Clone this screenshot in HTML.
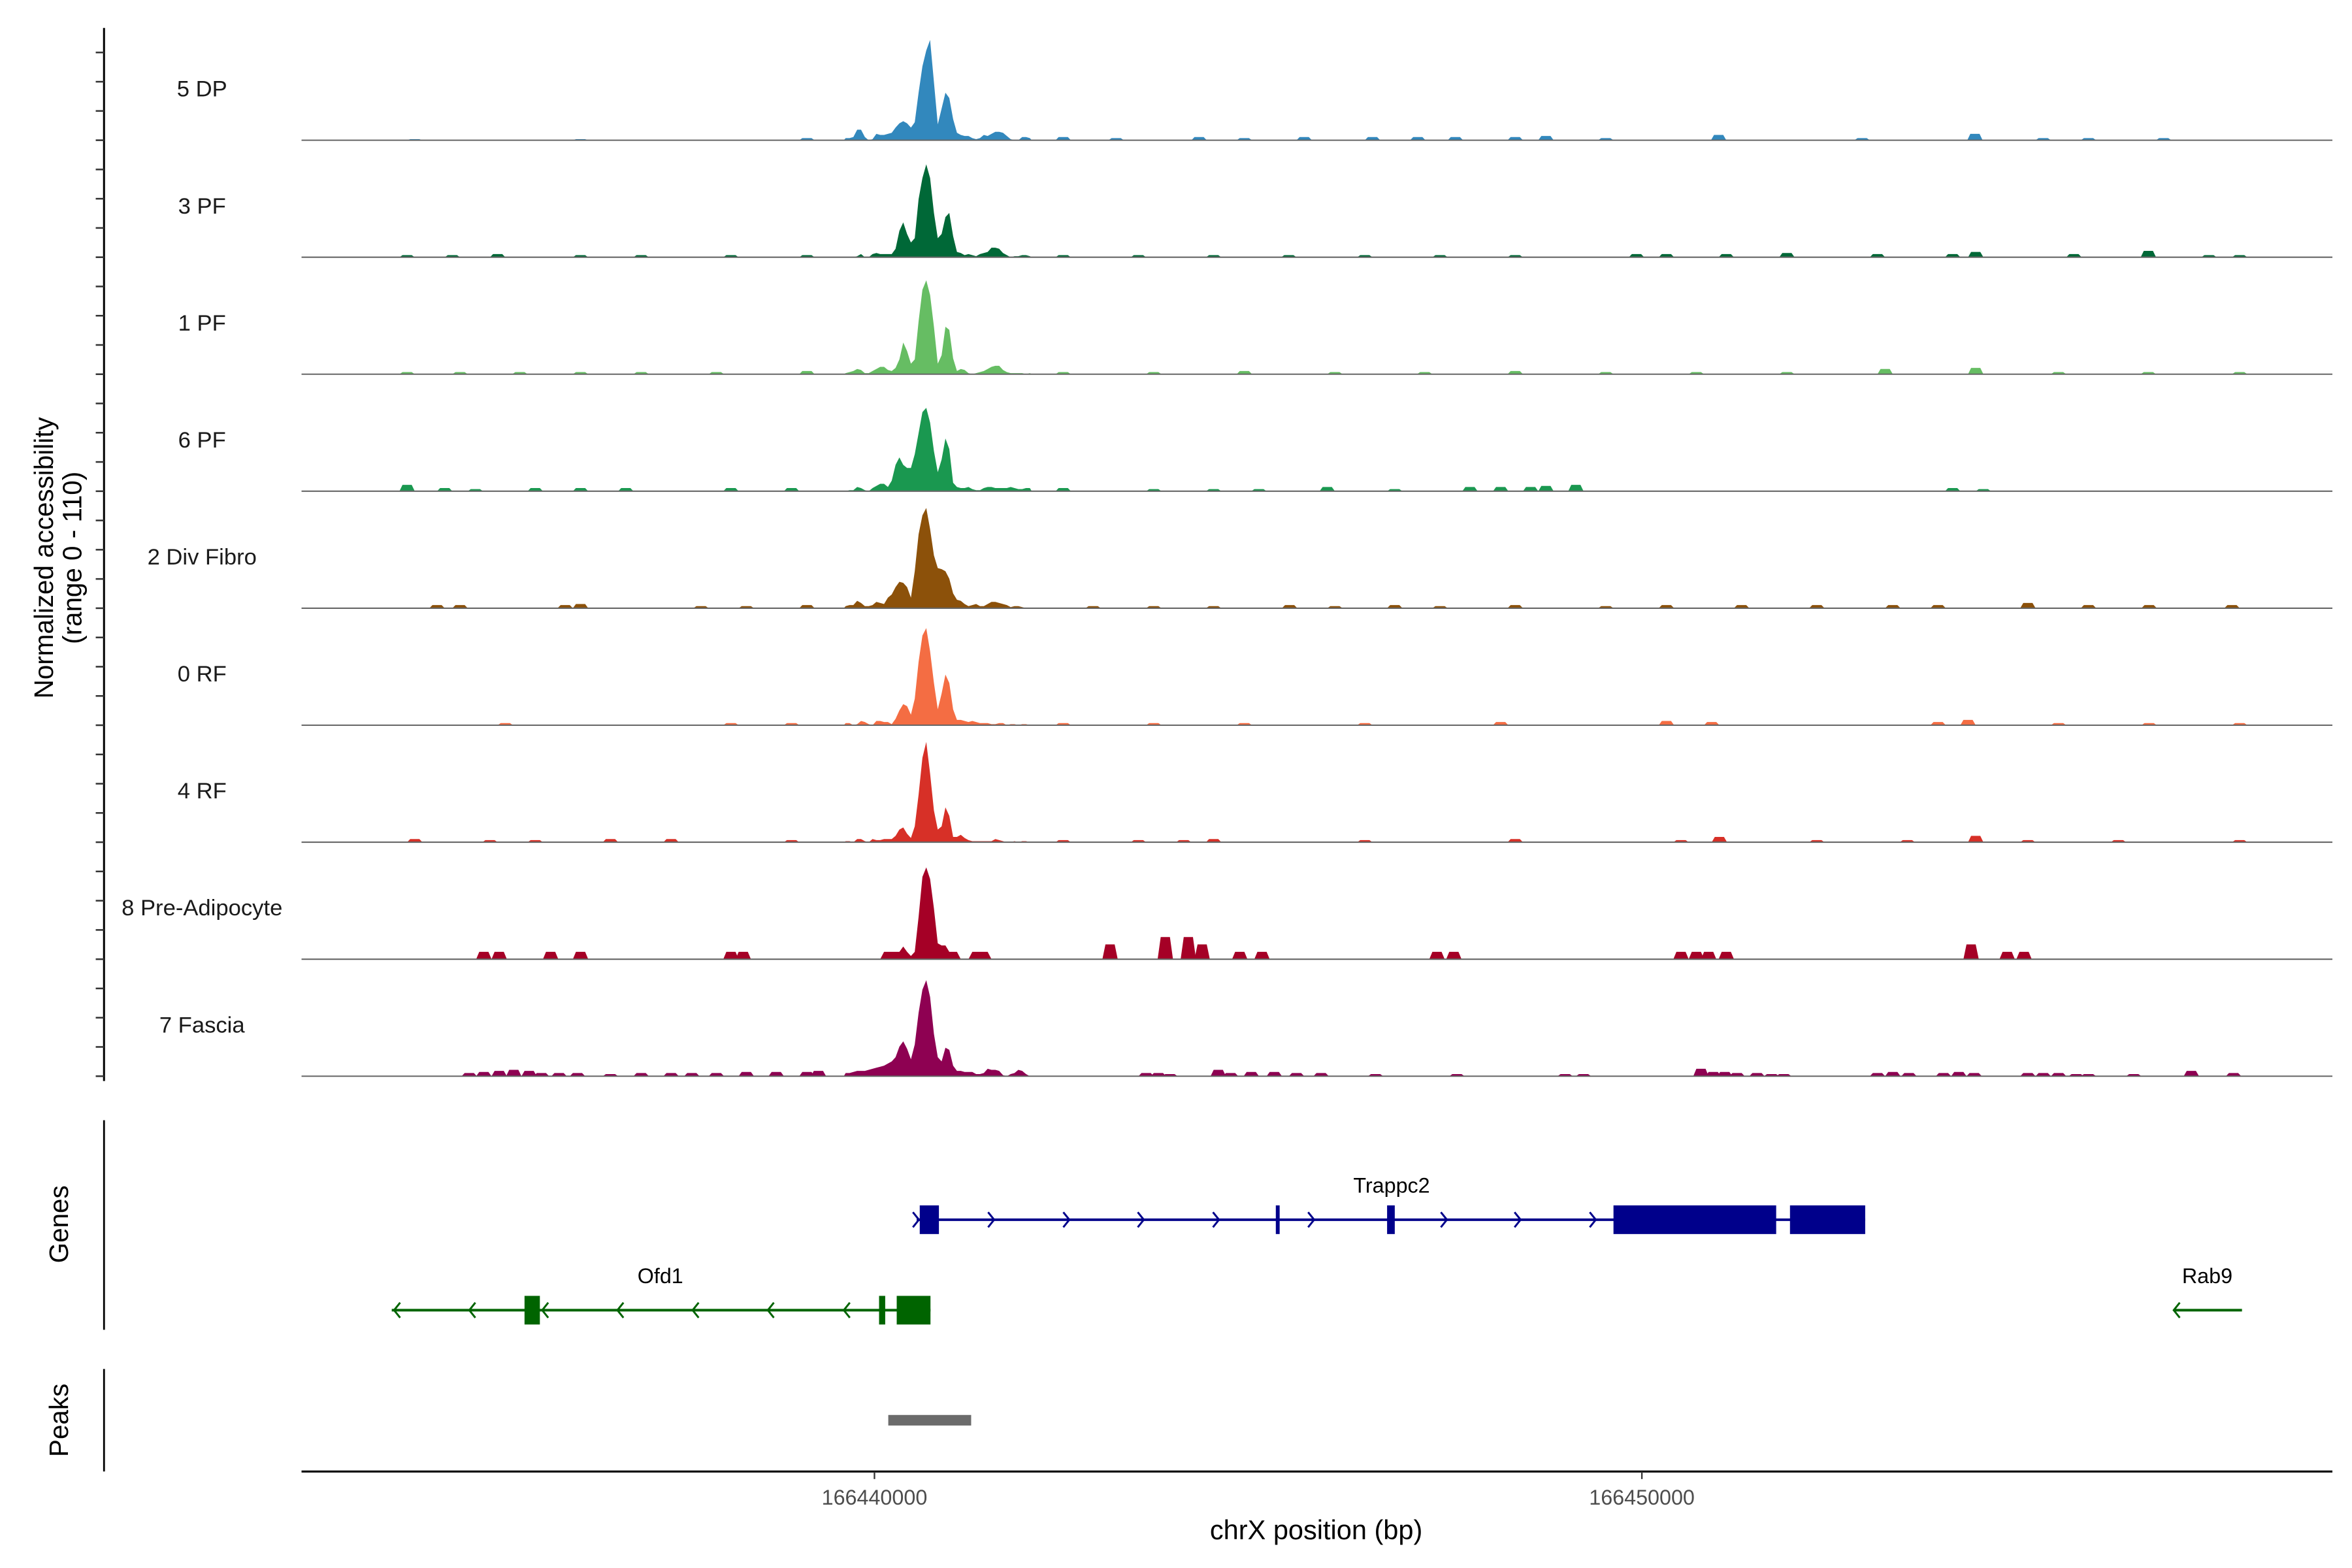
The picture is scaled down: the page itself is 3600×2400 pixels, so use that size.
<!DOCTYPE html>
<html><head><meta charset="utf-8"><style>
html,body{margin:0;padding:0;background:#fff}
svg{display:block}
text{font-family:"Liberation Sans",Arial,sans-serif}
</style></head><body>
<svg id="chart" xmlns="http://www.w3.org/2000/svg" width="3600" height="2400" viewBox="0 0 1560 1040">
<rect x="0" y="0" width="1560" height="1040" fill="#fff"/>
<g id="g"></g>
</svg>
<script>
const names=["5 DP","3 PF","1 PF","6 PF","2 Div Fibro","0 RF","4 RF","8 Pre-Adipocyte","7 Fascia"];
const colors=["#3288bd","#006837","#66bd63","#1a9850","#8c510a","#f46d43","#d73027","#a50026","#8e0152"];
// core coverage, 50bp bins starting at offset -400bp from 166440000
const coreStart=-400;
const core5DP=[2,2,3,10,10,3,0,1,6,5,5,6,7,12,16,18,16,12,17,45,70,85,95,55,15,30,45,40,20,7,5,4,4,2,1,2,5,4,6,8,8,7,4,1,0,0,3,3,2];
const core3PF=[0,0,0,1,3,0,0,3,4,3,3,3,3,8,25,33,22,14,18,55,75,88,75,42,18,22,38,42,20,5,4,2,3,2,1,3,4,5,9,9,8,4,2,0,1,1,2,2,1];
const core1PF=[1,2,3,5,4,1,1,3,5,7,7,4,3,6,14,30,22,10,14,50,80,89,75,45,10,18,45,42,15,3,5,4,1,0,1,2,3,5,7,8,8,4,2,1,1,1,1,0,1];
const core6PF=[0,1,1,4,3,1,0,3,5,7,7,4,10,25,32,25,22,22,35,55,75,79,65,38,18,30,50,40,8,4,3,3,4,2,1,1,3,4,4,3,3,3,3,4,3,2,2,3,3];
const core2DF=[2,3,3,7,5,2,2,3,6,5,4,10,13,20,25,24,20,10,35,70,88,95,75,50,38,37,35,28,14,8,7,4,2,3,4,2,2,4,6,6,5,4,3,1,2,2,1,0,0];
const core0RF=[2,2,0,1,4,3,1,0,4,4,3,3,1,6,14,20,18,10,25,60,85,92,70,40,15,30,48,40,15,5,5,4,3,4,3,2,2,2,1,1,2,2,0,1,1,0,1,1,0];
const core4RF=[1,1,0,3,3,1,0,3,2,2,3,3,3,6,12,14,8,4,15,45,80,95,65,30,12,15,33,25,5,5,7,4,2,1,1,1,1,1,1,3,2,1,0,0,1,0,1,1,0];
const core8PA=[0,0,0,0,0,0,0,0,0,0,7,7,7,7,7,12,7,3,7,40,78,87,76,48,15,13,13,7,7,7,0,0,0,7,7,7,7,7,0,0,0,0,0,0,0,0,0,0,0];
const core7FA=[3,3,4,5,5,5,6,7,8,9,10,12,14,18,28,33,26,16,30,60,82,91,75,40,18,14,27,25,10,5,5,4,4,4,2,2,3,7,6,6,5,1,0,2,3,6,5,2,0];
// background bumps: positions (kb offset from 166440000) and values
const bumpPos5DP=[-6.09,-3.93,-0.98,2.36,3.05,4.13,4.72,5.50,6.39,6.98,7.47,8.25,8.65,9.43,10.90,12.77,14.24,15.13,15.72,16.70];
const bumpVal5DP=[1,1,2,3,2,3,2,3,3,3,3,3,4,2,5,2,6,2,2,2];
const bumpPos3PF=[-6.19,-5.60,-5.01,-3.93,-3.14,-1.97,-0.98,2.36,3.34,4.32,5.30,6.29,7.27,8.25,9.83,10.22,11.00,11.79,12.97,13.95,14.25,15.53,16.50,17.29,17.69];
const bumpVal3PF=[2,2,3,2,2,2,2,2,2,2,2,2,2,2,3,3,3,4,3,3,5,3,6,2,2];
const bumpPos1PF=[-6.19,-5.50,-4.72,-3.93,-3.14,-2.16,-0.98,2.36,3.54,4.72,5.90,7.07,8.25,9.43,10.61,11.79,13.07,14.25,15.33,16.50,17.69];
const bumpVal1PF=[2,2,2,2,2,2,3,2,2,3,2,2,3,2,2,2,5,6,2,2,2];
const bumpPos6PF=[-6.19,-5.70,-5.30,-4.52,-3.93,-3.34,-1.97,-1.18,2.36,3.54,4.32,4.91,5.80,6.68,7.66,8.06,8.45,8.65,9.04,13.95,14.35];
const bumpVal6PF=[6,3,2,3,3,3,3,3,3,2,2,2,4,2,4,4,4,5,6,3,2];
const bumpPos2DF=[-5.80,-5.50,-4.13,-3.93,-2.36,-1.77,-0.98,2.75,3.54,4.32,5.31,5.90,6.68,7.27,8.25,9.43,10.22,11.20,12.18,13.17,13.76,14.93,15.72,16.51,17.59];
const bumpVal2DF=[3,3,3,4,2,2,3,2,2,2,3,2,3,2,3,2,3,3,3,3,3,5,3,3,3];
const bumpPos0RF=[-4.91,-1.97,-1.18,2.36,3.54,4.72,6.29,8.06,10.22,10.81,13.76,14.15,15.33,16.51,17.69];
const bumpVal0RF=[2,2,2,2,2,2,2,3,4,3,3,5,2,2,2];
const bumpPos4RF=[-6.09,-5.11,-4.52,-3.54,-2.75,-1.18,2.36,3.34,3.93,4.32,6.29,8.25,10.41,10.91,12.18,13.36,14.25,14.93,16.11,17.69];
const bumpVal4RF=[3,2,2,3,3,2,2,2,2,3,2,3,2,5,2,2,6,2,2,2];
const bumpPos8PA=[-5.19,-4.99,-4.32,-3.93,-1.97,-1.81,2.97,3.69,3.99,4.17,4.66,4.95,7.23,7.45,10.41,10.61,10.77,11.00,14.19,14.66,14.88];
const bumpVal8PA=[7,7,7,7,7,7,14,21,21,14,7,7,7,7,7,7,7,7,14,7,7];
const bumpPos7FA=[-5.38,-5.19,-4.99,-4.80,-4.60,-4.44,-4.21,-3.97,-3.54,-3.14,-2.75,-2.48,-2.16,-1.77,-1.38,-0.98,-0.83,3.44,3.60,3.75,4.38,4.54,4.81,5.11,5.40,5.72,6.43,7.49,8.90,9.14,10.67,10.83,10.98,11.14,11.40,11.59,11.75,12.97,13.17,13.38,13.83,14.03,14.23,14.93,15.13,15.33,15.56,15.72,16.31,17.06,17.61];
const bumpVal7FA=[3,4,5,6,5,3,3,3,2,3,3,3,3,4,4,4,5,3,3,2,6,3,4,4,3,3,2,2,2,2,7,4,4,3,3,2,2,3,4,3,3,4,3,3,3,3,2,2,2,5,3];
const xTicks=[166440000,166450000];
// genes (kb offsets)
const trappc2Span=[0.55,12.91];
const trappc2Exons=[[0.59,0.84],[5.23,5.28],[6.68,6.78],[9.63,11.75],[11.93,12.91]];
const trappc2Arrows=[0.55,1.53,2.51,3.48,4.46,5.70,7.43,8.39,9.37];
const ofd1Span=[-6.29,0.73];
const ofd1Exons=[[-4.56,-4.36],[0.06,0.14],[0.29,0.73]];
const ofd1Arrows=[-6.23,-5.25,-4.30,-3.32,-2.34,-1.36,-0.37];
const rab9Span=[16.94,17.82];
const rab9Arrows=[16.96];
const peakRegions=[[0.18,1.26]];

const cores=[core5DP,core3PF,core1PF,core6PF,core2DF,core0RF,core4RF,core8PA,core7FA];
const bPos=[bumpPos5DP,bumpPos3PF,bumpPos1PF,bumpPos6PF,bumpPos2DF,bumpPos0RF,bumpPos4RF,bumpPos8PA,bumpPos7FA];
const bVal=[bumpVal5DP,bumpVal3PF,bumpVal1PF,bumpVal6PF,bumpVal2DF,bumpVal0RF,bumpVal4RF,bumpVal8PA,bumpVal7FA];

const NS="http://www.w3.org/2000/svg";
const G=document.getElementById('g');
function mk(tag,attrs,parent){const e=document.createElementNS(NS,tag);for(const k in attrs)e.setAttribute(k,attrs[k]);(parent||G).appendChild(e);return e;}
const X0=580, PXPERBP=0.0509;
function xs(bp){return X0+bp*PXPERBP;}
function xk(kb){return xs(kb*1000);}
const base0=93, step=77.6, trackH=77, YMAX=110;
function ys(v,b){return b-v/YMAX*trackH;}

let ax=mk('line',{x1:69,y1:18.5,x2:69,y2:717,stroke:'#000','stroke-width':1.3});


for(let y=base0-3*19.4;y<=718;y+=19.4){
  let t=mk('line',{x1:63.5,y1:y,x2:69,y2:y,stroke:'#333','stroke-width':1.1});
  
  
}
let yt=mk('text',{x:0,y:0,transform:'translate(35,370) rotate(-90)','text-anchor':'middle','font-size':17.5,fill:'#000'});
yt.textContent='Normalized accessibility';


let yt2=mk('text',{x:0,y:0,transform:'translate(54,370) rotate(-90)','text-anchor':'middle','font-size':17.5,fill:'#000'});
yt2.textContent='(range 0 - 110)';



names.forEach((nm,i)=>{
  const b=base0+i*step;
  const grp=mk('g',{});
  
  
  let lab=mk('text',{x:134,y:b-29,'text-anchor':'middle','font-size':15,fill:'#1a1a1a'},grp);
  lab.textContent=nm;
  
  
  const c=cores[i];
  let d='M'+xs(coreStart).toFixed(2)+','+b;
  c.forEach((v,k)=>{const o=coreStart+k*50+25;d+=' L'+xs(o).toFixed(2)+','+ys(v,b).toFixed(2);});
  d+=' L'+xs(coreStart+c.length*50).toFixed(2)+','+b+' Z';
  let p=mk('path',{d:d,fill:colors[i]},grp);
  
  
  bPos[i].forEach((pos,k)=>{
    const v=bVal[i][k];const s=pos*1000;
    const bd='M'+xs(s).toFixed(2)+','+b+' L'+xs(s+40).toFixed(2)+','+ys(v,b).toFixed(2)+' L'+xs(s+160).toFixed(2)+','+ys(v,b).toFixed(2)+' L'+xs(s+200).toFixed(2)+','+b+' Z';
    let q=mk('path',{d:bd,fill:colors[i]},grp);
    
    
  });
  let bl=mk('line',{x1:200,y1:b,x2:1547,y2:b,stroke:'#666','stroke-width':0.9},grp);
  
  
});

let ga=mk('line',{x1:69,y1:743,x2:69,y2:882,stroke:'#000','stroke-width':1.2});


let gt=mk('text',{x:0,y:0,transform:'translate(45,812) rotate(-90)','text-anchor':'middle','font-size':17.5,fill:'#000'});
gt.textContent='Genes';


function drawGene(name,span,exons,arrows,y,col,dir,lx,ly){
  const grp=mk('g',{});
  
  
  let l=mk('line',{x1:xk(span[0]),y1:y,x2:xk(span[1]),y2:y,stroke:col,'stroke-width':1.7},grp);
  
  
  arrows.forEach(a=>{const x=xk(a);
    let ar=mk('path',{d:dir>0?`M${x-2.5},${y-5} L${x+1.5},${y} L${x-2.5},${y+5}`:`M${x+2.5},${y-5} L${x-1.5},${y} L${x+2.5},${y+5}`,fill:'none',stroke:col,'stroke-width':1.3},grp);
    
    
  });
  exons.forEach(e=>{
    let r=mk('rect',{x:xk(e[0]),y:y-9.5,width:Math.max(2.5,xk(e[1])-xk(e[0])),height:19,fill:col},grp);
    
    
  });
  let t=mk('text',{x:lx,y:ly,'text-anchor':'middle','font-size':14,fill:'#000'},grp);
  t.textContent=name;
  
  
}
drawGene('Trappc2',trappc2Span,trappc2Exons,trappc2Arrows,809,'#00008b',1,923,791);
drawGene('Ofd1',ofd1Span,ofd1Exons,ofd1Arrows,869,'#006400',-1,438,851);
drawGene('Rab9',rab9Span,[],rab9Arrows,869,'#006400',-1,1464,851);

let pa=mk('line',{x1:69,y1:908,x2:69,y2:976,stroke:'#000','stroke-width':1.2});


let pt=mk('text',{x:0,y:0,transform:'translate(45,942) rotate(-90)','text-anchor':'middle','font-size':17.5,fill:'#000'});
pt.textContent='Peaks';


peakRegions.forEach(r=>{
  let pr=mk('rect',{x:xk(r[0]),y:938.5,width:xk(r[1])-xk(r[0]),height:7,fill:'#6b6b6b'});
  
  
});

let xa=mk('line',{x1:200,y1:976,x2:1547,y2:976,stroke:'#000','stroke-width':1.4});


xTicks.forEach(t=>{
  const x=xs(t-166440000);
  let tk=mk('line',{x1:x,y1:976,x2:x,y2:981,stroke:'#333','stroke-width':1});
  
  
  let tl=mk('text',{x:x,y:998,'text-anchor':'middle','font-size':14,fill:'#4d4d4d'});
  tl.textContent=String(t);
  
  
});
let xt=mk('text',{x:873,y:1021,'text-anchor':'middle','font-size':18,fill:'#000'});
xt.textContent='chrX position (bp)';


</script>
</body></html>
